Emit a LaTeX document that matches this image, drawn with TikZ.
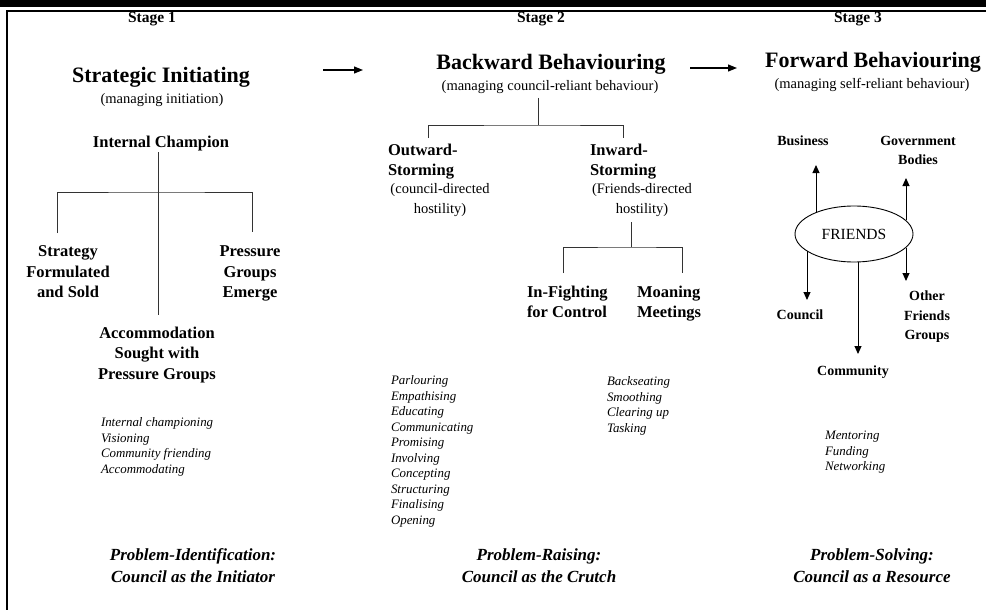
\documentclass[tikz,border=0pt]{standalone}
\usepackage{fontspec}
\setmainfont{Liberation Serif}
\usetikzlibrary{arrows.meta,shapes.geometric,calc}
\begin{document}
\begin{tikzpicture}[x=1pt,y=-1pt,
  txt/.style={inner sep=0pt,outer sep=0pt},
  stagelbl/.style={txt,font=\bfseries\fontsize{15.5}{17}\selectfont},
  headlbl/.style={txt,font=\bfseries\fontsize{22}{24}\selectfont},
  sublbl/.style={txt,font=\fontsize{14.5}{20}\selectfont,align=center},
  boldlbl/.style={txt,font=\bfseries\fontsize{16.5}{20.3}\selectfont,align=center,anchor=north},
  leftlbl/.style={txt,font=\bfseries\fontsize{16.5}{20.3}\selectfont,align=left,anchor=north west},
  smalllbl/.style={txt,font=\bfseries\fontsize{14}{19.5}\selectfont,align=center,anchor=north},
  actlist/.style={txt,font=\itshape\fontsize{12.9}{15.5}\selectfont,align=left,anchor=north west},
  footlbl/.style={txt,font=\bfseries\itshape\fontsize{17}{22}\selectfont,align=center,anchor=north},
  treeline/.style={line width=0.9pt,draw=black!80},
  stagearrow/.style={line width=1.2pt,-{Triangle[length=9pt,width=7pt]}},
  linkarrow/.style={line width=1pt,-{Triangle[length=8pt,width=7pt]}},
  ellipsebox/.style={ellipse,draw,line width=0.9pt,minimum width=118pt,minimum height=56pt,inner sep=0pt,outer sep=0pt,font=\fontsize{15.5}{18}\selectfont}
]
\useasboundingbox (0,0) rectangle (986,610);
\fill[white] (0,0) rectangle (986,610);
% frame
\fill[black] (0,0) rectangle (986,7);
\fill[black] (6,10) rectangle (986,12);
\fill[black] (6,10) rectangle (8,610);

% stage labels
\node[stagelbl] (s1) at (152,19) {Stage 1};
\node[stagelbl] (s2) at (541,19) {Stage 2};
\node[stagelbl] (s3) at (858,19) {Stage 3};

% headings
\node[headlbl] (si) at (161,77) {Strategic Initiating};
\node[sublbl] (sis) at (162,100) {(managing initiation)};
\node[headlbl] (bb) at (551,64) {Backward Behaviouring};
\node[sublbl] (bbs) at (550,87) {(managing council-reliant behaviour)};
\node[headlbl] (fb) at (873,62) {Forward Behaviouring};
\node[sublbl] (fbs) at (872,85) {(managing self-reliant behaviour)};

% stage arrows
\coordinate (a1s) at (323,70); \coordinate (a1e) at (363,70);
\coordinate (a2s) at (690,68); \coordinate (a2e) at (737,68);
\draw[stagearrow] (a1s) -- (a1e);
\draw[stagearrow] (a2s) -- (a2e);

% stage 1 tree
\node[boldlbl] (ic) at (161,136) {Internal Champion};
\node[boldlbl] (sfs) at (68,246) {Strategy\\Formulated\\and Sold};
\node[boldlbl] (pge) at (250,246) {Pressure\\Groups\\Emerge};
\node[boldlbl] (acc) at (157,327) {Accommodation\\Sought with\\Pressure Groups};
\coordinate (t1top) at (158,152);
\coordinate (t1bot) at (158,315);
\coordinate (t1j) at (158,192);
\coordinate (t1l) at (57,233);
\coordinate (t1r) at (252,232);
\draw[treeline] (t1top) -- (t1bot);
\draw[treeline] (t1l) |- (t1j) -| (t1r);

% stage 2 tree
\node[leftlbl] (ow) at (388,144) {Outward-\\Storming};
\node[sublbl,anchor=north] (owp) at (440,183) {(council-directed\\hostility)};
\node[leftlbl] (iw) at (590,144) {Inward-\\Storming};
\node[sublbl,anchor=north] (iwp) at (642,183) {(Friends-directed\\hostility)};
\node[leftlbl] (ifc) at (527,286) {In-Fighting\\for Control};
\node[leftlbl] (mm) at (637,286) {Moaning\\Meetings};
\coordinate (t2top) at (538,98);
\coordinate (t2j) at (538,125);
\coordinate (t2l) at (428,138);
\coordinate (t2r) at (623,138);
\draw[treeline] (t2top) -- (t2j);
\draw[treeline] (t2l) |- (t2j) -| (t2r);
\coordinate (t3top) at (631,222);
\coordinate (t3j) at (631,247);
\coordinate (t3l) at (563,273);
\coordinate (t3r) at (682,273);
\draw[treeline] (t3top) -- (t3j);
\draw[treeline] (t3l) |- (t3j) -| (t3r);

% stage 3
\node[ellipsebox] (fr) at (854,234) {FRIENDS};
\node[smalllbl] (bus) at (803,136) {Business};
\node[smalllbl] (gov) at (918,136) {Government\\Bodies};
\node[smalllbl] (cou) at (800,310) {Council};
\node[smalllbl] (ofg) at (927,291) {Other\\Friends\\Groups};
\node[smalllbl] (com) at (853,366) {Community};
\draw[linkarrow] ($(fr.center)+(-38,-21.7)$) -- ($(fr.center)+(-38,-69)$);
\draw[linkarrow] ($(fr.center)+(52,-14)$) -- ($(fr.center)+(52,-56)$);
\draw[linkarrow] ($(fr.center)+(-47,17.2)$) -- ($(fr.center)+(-47,66)$);
\draw[linkarrow] ($(fr.center)+(52,14)$) -- ($(fr.center)+(52,47)$);
\draw[linkarrow] ($(fr.center)+(4,27.9)$) -- ($(fr.center)+(4,120)$);

% activity lists
\node[actlist] (l1) at (101,418) {Internal championing\\Visioning\\Community friending\\Accommodating};
\node[actlist] (l2) at (391,376) {Parlouring\\Empathising\\Educating\\Communicating\\Promising\\Involving\\Concepting\\Structuring\\Finalising\\Opening};
\node[actlist] (l3) at (607,377) {Backseating\\Smoothing\\Clearing up\\Tasking};
\node[actlist] (l4) at (825,431) {Mentoring\\Funding\\Networking};

% footers
\node[footlbl] (f1) at (193,549) {Problem-Identification:\\Council as the Initiator};
\node[footlbl] (f2) at (539,549) {Problem-Raising:\\Council as the Crutch};
\node[footlbl] (f3) at (872,549) {Problem-Solving:\\Council as a Resource};
\end{tikzpicture}
\end{document}
